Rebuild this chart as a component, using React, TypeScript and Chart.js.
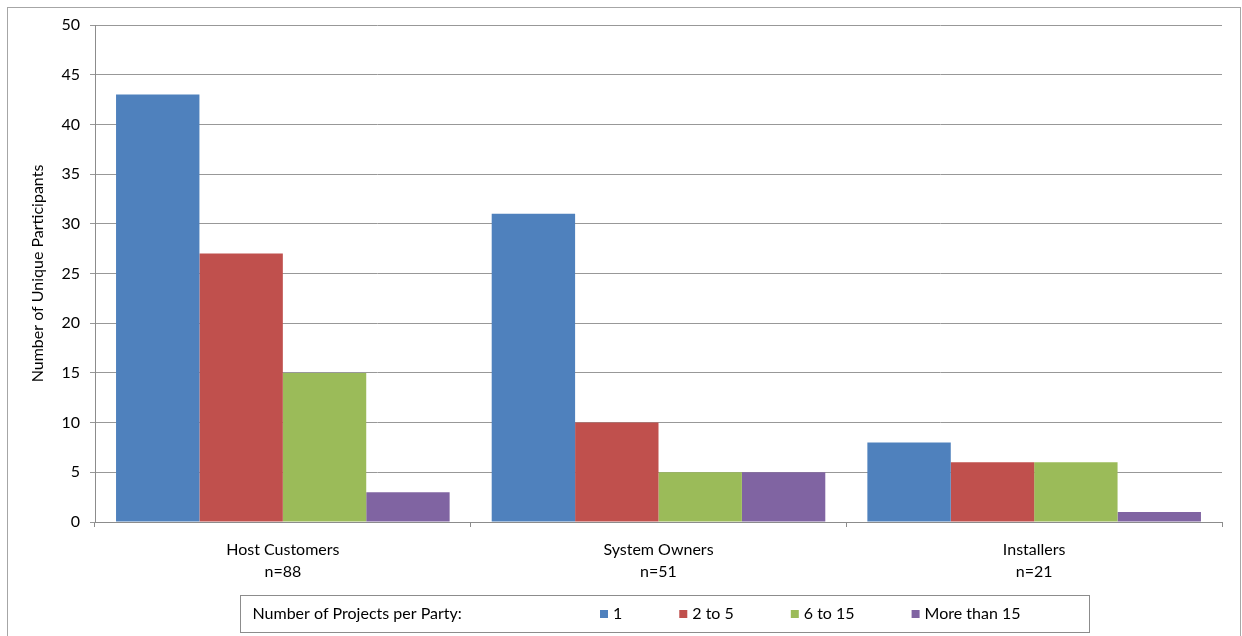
import { useEffect, useRef } from "react";
import { Chart, registerables } from "chart.js";

Chart.register(...registerables);

// Participant groups (two-line axis labels) and the per-series counts
const categories = [
  ["Host Customers", "n=88"],
  ["System Owners", "n=51"],
  ["Installers", "n=21"],
];
const seriesNames = ["1", "2 to 5", "6 to 15", "More than 15"];
const seriesColors = ["#4F81BD", "#C0504D", "#9BBB59", "#8064A2"];
const oneProject = [43, 31, 8];
const twoToFiveProjects = [27, 10, 6];
const sixToFifteenProjects = [15, 5, 6];
const moreThanFifteenProjects = [3, 5, 1];
const seriesValues = [oneProject, twoToFiveProjects, sixToFifteenProjects, moreThanFifteenProjects];
const yMin = 0;
const yMax = 50;
const yStep = 5;
const yAxisTitle = "Number of Unique Participants";
const legendHeading = "Number of Projects per Party:";

const FONT = "Lato, 'Open Sans', sans-serif";
const FONT_SIZE = 16;
const AXIS_GRAY = "#8c8c8c";
const GRID_GRAY = "#989898";

// Outer frame of the chart object
const frame = {
  id: "frame",
  beforeDraw(chart: Chart) {
    const { ctx } = chart;
    ctx.save();
    ctx.fillStyle = "#ffffff";
    ctx.fillRect(0, 0, chart.width, chart.height);
    ctx.strokeStyle = "#a6a6a6";
    ctx.lineWidth = 1;
    ctx.strokeRect(7.5, 7.5, 1233, 700);
    ctx.restore();
  },
};

// Boxed legend below the category labels, with a leading heading
const legendBox = {
  id: "legendBox",
  afterDraw(chart: Chart) {
    const { ctx } = chart;
    const left = 240.5;
    const top = 595.5;
    const w = 849;
    const h = 37;
    ctx.save();
    ctx.strokeStyle = AXIS_GRAY;
    ctx.lineWidth = 1;
    ctx.strokeRect(left, top, w, h);
    ctx.font = `${FONT_SIZE}px ${FONT}`;
    ctx.textBaseline = "middle";
    ctx.textAlign = "left";
    const cy = top + h / 2;
    ctx.fillStyle = "#000000";
    ctx.fillText(legendHeading, left + 12, cy);
    let x = 600;
    chart.data.datasets.forEach((ds: any) => {
      ctx.fillStyle = ds.backgroundColor;
      ctx.fillRect(x, cy - 4, 8, 8);
      ctx.fillStyle = "#000000";
      ctx.fillText(ds.label, x + 13, cy);
      x += 13 + ctx.measureText(ds.label).width + 57;
    });
    ctx.restore();
  },
};

export default function App() {
  const canvasRef = useRef<HTMLCanvasElement | null>(null);

  useEffect(() => {
    if (!canvasRef.current) return;
    const chart = new Chart(canvasRef.current, {
      type: "bar",
      data: {
        labels: categories,
        datasets: seriesNames.map((name, i) => ({
          label: name,
          data: seriesValues[i],
          backgroundColor: seriesColors[i],
          borderWidth: 0,
          barPercentage: 1,
          categoryPercentage: 0.888,
        })),
      },
      options: {
        animation: false,
        responsive: true,
        maintainAspectRatio: false,
        layout: { padding: { left: 0, top: 25, right: 20, bottom: 0 } },
        plugins: {
          legend: { display: false },
          tooltip: { enabled: false },
          title: { display: false },
        },
        scales: {
          x: {
            grid: {
              display: true,
              drawOnChartArea: false,
              drawTicks: true,
              tickLength: 5,
              offset: true,
              color: AXIS_GRAY,
            },
            border: { display: true, color: AXIS_GRAY },
            ticks: {
              color: "#000000",
              padding: 12,
              maxRotation: 0,
              font: { family: FONT, size: FONT_SIZE, lineHeight: "22px" },
            },
            afterFit(scale: any) {
              scale.height = 114;
            },
          },
          y: {
            min: yMin,
            max: yMax,
            grid: {
              color: GRID_GRAY,
              drawTicks: true,
              tickLength: 5,
            },
            border: { display: true, color: AXIS_GRAY },
            ticks: {
              stepSize: yStep,
              color: "#000000",
              padding: 10,
              font: { family: FONT, size: FONT_SIZE },
            },
            title: {
              display: true,
              text: yAxisTitle,
              color: "#000000",
              padding: { top: 28, bottom: 0 },
              font: { family: FONT, size: FONT_SIZE },
            },
            afterFit(scale: any) {
              scale.width = 95;
            },
          },
        },
      },
      plugins: [frame, legendBox],
    });
    return () => chart.destroy();
  }, []);

  return (
    <div style={{ position: "fixed", left: 0, top: 0, width: 1242, height: 636, background: "#ffffff" }}>
      <canvas ref={canvasRef} />
    </div>
  );
}
